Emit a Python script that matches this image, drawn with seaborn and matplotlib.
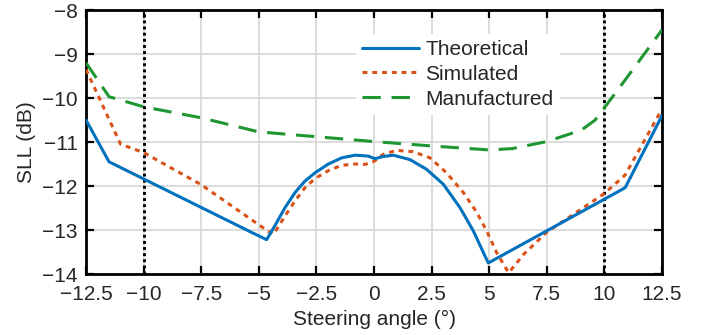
import numpy as np
import pandas as pd
import matplotlib
matplotlib.use("Agg")
import matplotlib.pyplot as plt
import seaborn as sns

# ---- data ----
theo_x = [-12.5, -11.5, -5.33, -4.66, -4.3, -3.86, -3.43, -3.0, -2.56, -1.98, -1.4, -0.82, -0.25, 0.04,
          0.4, 0.84, 1.56, 2.28, 3.01, 3.73, 4.31, 4.96, 10.9, 12.5]
theo_y = [-10.5, -11.45, -13.05, -13.22, -12.9, -12.49, -12.15, -11.89, -11.7, -11.5, -11.36, -11.3, -11.32, -11.38,
          -11.33, -11.3, -11.4, -11.62, -11.96, -12.49, -13.02, -13.75, -12.04, -10.4]

sim_x = [-12.5, -11.0, -10.0, -7.5, -4.59, -4.35, -3.86, -3.43, -3.0, -2.56, -1.98, -1.4, -0.82, -0.39, 0.0,
         0.4, 0.98, 1.7, 2.43, 3.15, 3.88, 4.46, 4.89, 5.32, 5.69, 5.85, 6.5, 7.5, 8.5, 10.0, 10.9, 12.5]
sim_y = [-9.35, -11.05, -11.24, -11.97, -13.03, -13.09, -12.68, -12.34, -12.04, -11.83, -11.65, -11.53, -11.5, -11.51, -11.44,
         -11.28, -11.19, -11.22, -11.36, -11.7, -12.15, -12.6, -13.02, -13.51, -13.84, -13.97, -13.55, -13.05, -12.7, -12.17, -11.75, -10.25]

man_x = [-12.5, -11.5, -10.0, -7.5, -5.0, -2.5, 0.0, 2.5, 5.0, 6.0, 7.5, 9.0, 9.6, 10.0, 11.0, 12.5]
man_y = [-9.2, -9.97, -10.2, -10.45, -10.77, -10.88, -10.99, -11.09, -11.18, -11.15, -10.99, -10.73, -10.5, -10.22, -9.52, -8.45]

vlines_x = [-10, 10]
xticks = [-12.5, -10, -7.5, -5, -2.5, 0, 2.5, 5, 7.5, 10, 12.5]
xtick_labels = ["\u221212.5", "\u221210", "\u22127.5", "\u22125", "\u22122.5", "0", "2.5", "5", "7.5", "10", "12.5"]
yticks = [-14, -13, -12, -11, -10, -9, -8]
ytick_labels = ["\u221214", "\u221213", "\u221212", "\u221211", "\u221210", "\u22129", "\u22128"]

sns.set_theme(style="ticks")
plt.rcParams['font.family'] = ['Liberation Sans', 'DejaVu Sans']

fig = plt.figure(figsize=(7.1, 3.35), dpi=100)
ax = fig.add_axes([86/710, 61/335, 576/710, 264/335])

ax.set_xlim(-12.5, 12.5)
ax.set_ylim(-14, -8)
ax.set_xticks(xticks)
ax.set_xticklabels(xtick_labels)
ax.set_yticks(yticks)
ax.set_yticklabels(ytick_labels)
ax.grid(True, color="#d9d9d9", linewidth=1.3)
ax.set_axisbelow(True)

for xv in vlines_x:
    ax.axvline(xv, color="black", linestyle=(0, (1, 1.1)), linewidth=2.1, zorder=2)

df_t = pd.DataFrame({"x": theo_x, "y": theo_y})
df_s = pd.DataFrame({"x": sim_x, "y": sim_y})
df_m = pd.DataFrame({"x": man_x, "y": man_y})

sns.lineplot(data=df_t, x="x", y="y", ax=ax, color="#0072BD", linewidth=2.2,
             label="Theoretical", sort=False, estimator=None, zorder=4)
sns.lineplot(data=df_s, x="x", y="y", ax=ax, color="#D95319", linewidth=2.2,
             label="Simulated", sort=False, estimator=None, zorder=3)
sns.lineplot(data=df_m, x="x", y="y", ax=ax, color="#1E9632", linewidth=2.2,
             label="Manufactured", sort=False, estimator=None, zorder=3)
lines = ax.get_lines()[-3:]
lines[1].set_linestyle((0, (1.6, 1.6)))
lines[2].set_linestyle((0, (6, 3.5)))
for ln in lines:
    ln.set_solid_joinstyle("round")
    ln.set_dash_joinstyle("round")

ax.set_xlabel("Steering angle (\u00b0)", fontsize=15, labelpad=4)
ax.set_ylabel("SLL (dB)", fontsize=15, labelpad=4)
ax.tick_params(axis="both", which="both", direction="in", length=6, width=1.6,
               labelsize=15, top=True, right=True, color="black", pad=6)
ax.tick_params(axis="x", pad=8)
for sp in ax.spines.values():
    sp.set_linewidth(2.0)
    sp.set_color("black")

leg = ax.legend(loc="upper left", bbox_to_anchor=(0.45, 0.95), fontsize=15,
                frameon=True, facecolor="white", edgecolor="none", framealpha=1,
                fancybox=False, handlelength=2.75, handletextpad=0.3,
                labelspacing=0.28, borderpad=0.3)
for h in leg.get_lines():
    h.set_linewidth(2.2)

fig.savefig("out.png", dpi=100)
